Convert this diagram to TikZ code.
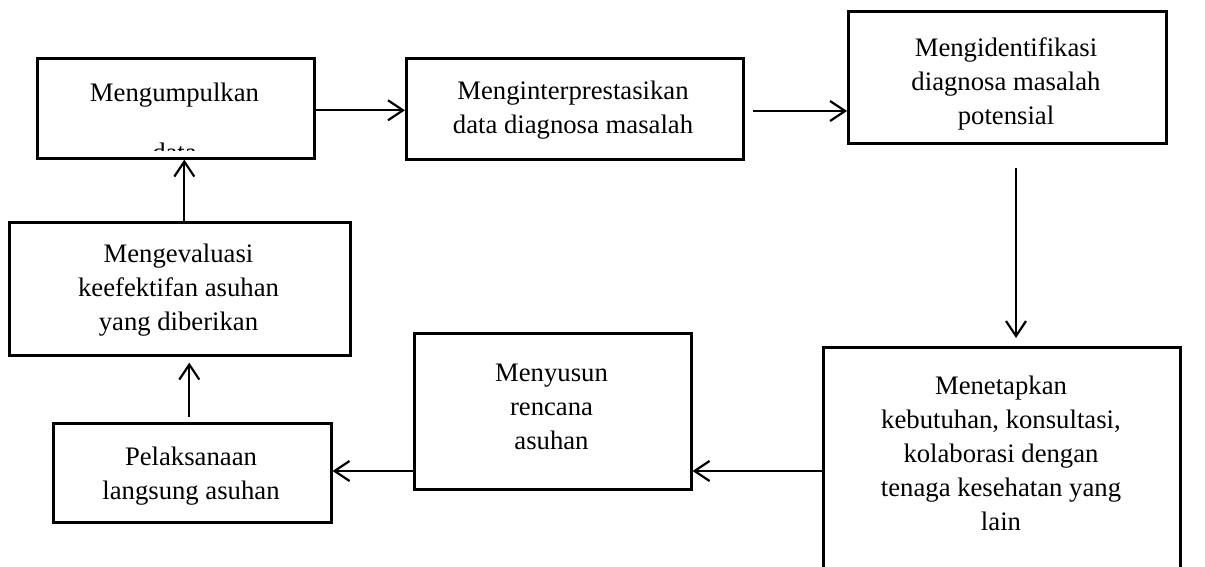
\documentclass[tikz,border=0pt]{standalone}
\usepackage{fontspec}
\setmainfont{Liberation Serif}
\usetikzlibrary{arrows.meta,positioning}

\begin{document}
\begin{tikzpicture}[x=1pt, y=-1pt,
  box/.style={draw, line width=2.6pt, inner sep=0pt, anchor=north west},
  txt/.style={align=center, font=\fontsize{26.7}{34}\selectfont},
  arr/.style={-{Straight Barb[length=15pt, width=20pt]}, line width=2.2pt}
]
  \useasboundingbox (0,0) rectangle (1205,566);
  \clip (0,0) rectangle (1205,566);

  \node[box, minimum width=277pt, minimum height=100pt] (collect)   at (36,57)   {};
  \node[box, minimum width=337pt, minimum height=101pt] (interpret) at (405,57)  {};
  \node[box, minimum width=318pt, minimum height=132pt] (potential) at (847,10)  {};
  \node[box, minimum width=341pt, minimum height=133pt] (evaluate)  at (8,221)   {};
  \node[box, minimum width=277pt, minimum height=156pt] (plan)      at (413,332) {};
  \node[box, minimum width=278pt, minimum height=99pt]  (act)       at (52,422)  {};
  \node[box, minimum width=357pt, minimum height=260pt] (establish) at (822,346) {};

  \node[txt] (collectt)   at (174.5,95)  {Mengumpulkan};
  \begin{scope}
    \clip (collect.north west) rectangle ([yshift=9pt]collect.south east);
    \node[txt, anchor=base] (collectd) at (174.5,161) {data};
  \end{scope}
  \node[txt] (interprett) at (573,110)   {Menginterprestasikan\\data diagnosa masalah};
  \node[txt] (potentialt) at (1006,84)   {Mengidentifikasi\\diagnosa masalah\\potensial};
  \node[txt] (evaluatet)  at (178.5,290) {Mengevaluasi\\keefektifan asuhan\\yang diberikan};
  \node[txt] (plant)      at (551.5,407) {Menyusun\\rencana\\asuhan};
  \node[txt] (actt)       at (191,476)   {Pelaksanaan\\langsung asuhan};
  \node[txt] (establisht) at (1001,453)  {Menetapkan\\kebutuhan, konsultasi,\\kolaborasi dengan\\tenaga kesehatan yang\\lain};

  \coordinate (midR)  at (753,111);
  \coordinate (downS) at (1016,168);
  \coordinate (downE) at (1016,338);
  \coordinate (row)   at (0,471);

  \draw[arr] ([yshift=-2pt]collect.east) -- ([yshift=-2pt]collect.east -| interpret.west);
  \draw[arr] (midR) -- (midR -| potential.west);
  \draw[arr] (downS) -- (downE);
  \draw[arr] (row -| establish.west) -- (row -| plan.east);
  \draw[arr] (row -| plan.west) -- (row -| act.east);
  \draw[arr, shorten <=5pt, shorten >=6pt] ([xshift=-3pt]act.north) -- ([xshift=-3pt]act.north |- evaluate.south);
  \draw[arr] ([xshift=4.5pt]evaluate.north) -- ([xshift=4.5pt]evaluate.north |- collect.south);
\end{tikzpicture}
\end{document}
